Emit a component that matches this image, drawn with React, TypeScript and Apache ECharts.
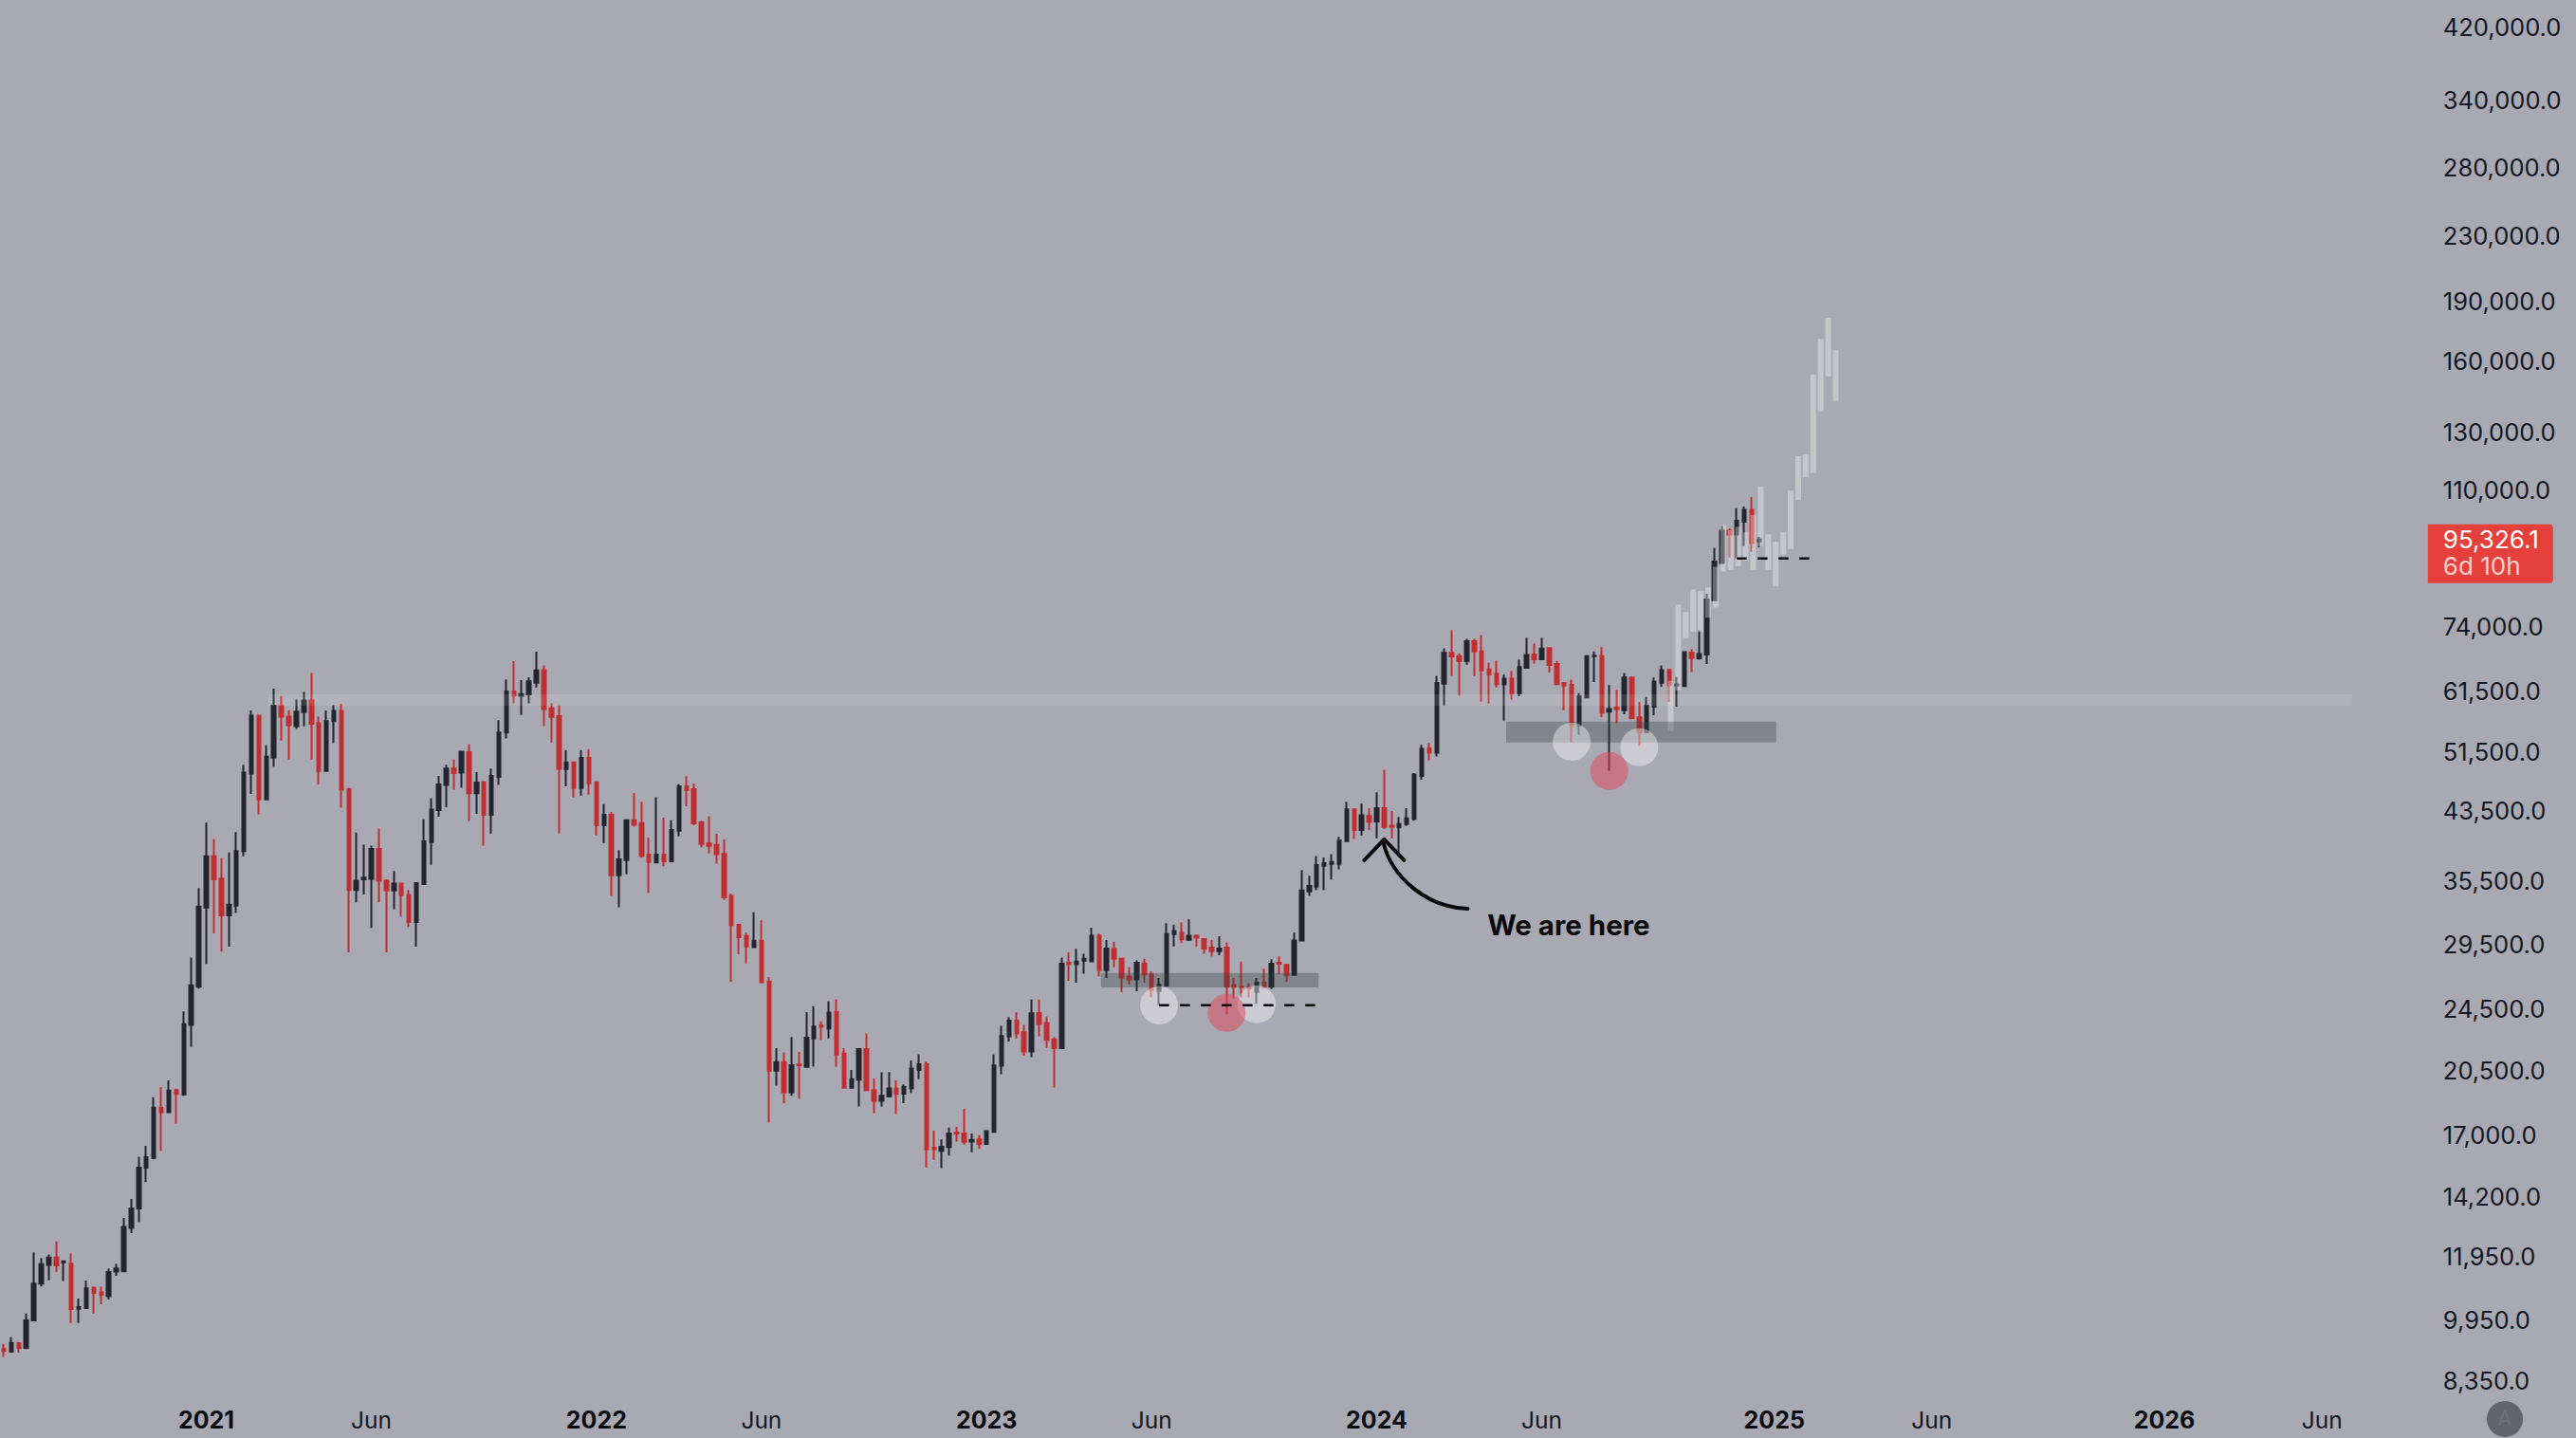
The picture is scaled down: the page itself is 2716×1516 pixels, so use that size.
import React, { useEffect, useRef } from "react";
import * as echarts from "echarts";

const FONT = "Inter";
const BG = "rgb(169,169,179)";
const DARK = "#23252f";
const RED = "#c12e30";

// weekly rows: [open, close, low, high]
const candles2020 = [
  [9135,9085,8930,9275],[9070,9300,9070,9455],[9290,9170,9045,9325],[9170,9930,9135,10130],[9930,11040,9930,12090],
  [11040,11680,10950,11890],[11660,11910,11150,12020],[11910,11640,11420,12480],[11750,11780,11130,11810],[11700,10260,9850,12050],
  [10270,10316,9850,10574],[10288,10896,10260,11145],[10910,10750,10130,10954],[10765,10690,10400,10954],[10650,11420,10545,11540],
  [11435,11540,11300,11700],[11448,13018,11416,13360],[12980,13730,12785,14110],[13730,15455,13200,15950],[15455,15930,14820,16460],
  [15890,18390,15840,18950],[18370,18140,16220,19500],[18140,19320,18090,19890],[19340,19130,17560,19425],[19100,23420,19030,24300],
  [23360,26200,21930,28400],[26100,32920,25950,34720],
];
const candles2021 = [
  [32820,38080,27880,41970],[38080,35610,30450,40010],[35700,32100,28900,37870],[32100,33090,29300,38500],[33000,38650,32300,40830],
  [38650,48530,38080,49650],[48380,57220,45600,58100],[57220,44900,43000,57220],[44900,50800,44900,52510],[50660,58900,49350,61870],
  [58800,57080,53220,60570],[57080,55670,50400,58100],[55530,57900,55100,59970],[57800,59800,55460,61270],[59800,55910,50400,64730],
  [55980,48750,46880,57080],[48750,56340,48750,58100],[56340,58030,52860,59000],[58030,46180,43840,59200],[46240,34530,28820,46430],
  [34530,35470,33320,40770],[35610,35800,34090,39370],[35660,38900,30940,39270],[38900,35470,33320,41220],[35470,34490,28820,35610],
  [34490,35180,32670,36500],[35180,34040,31960,35180],[34040,31480,31030,34530],[31480,35230,29300,35230],[35130,39750,35090,42400],
  [39690,43600,37150,45060],[43540,46880,42700,48060],[46820,49100,43900,49650],[49100,48450,46180,50400],[48530,51530,46430,51680],
  [51460,45700,42170,52650],[45700,47130,43050,48600],[47200,42950,39250,47200],[42950,48060,40660,49100],[47930,54480,46820,56470],
  [54480,61390,53560,63580],[61390,60670,59310,67030],[60600,60900,57320,63450],[60850,63200,59310,63960],[62960,65240,62080,68900],
  [65300,58340,55500,66200],[58460,57040,52950,59350],[57150,49070,40710,58930],[49030,49980,46640,51780],[49980,46410,45150,49980],
  [46410,50630,45400,51780],[50630,47040,45510,51950],
];
const candles2022 = [
  [47160,41660,40450,47350],[41660,42950,39560,44280],[42950,36040,33940,43280],[36040,37730,32850,38760],[37650,42260,36150,42350],
  [42260,41750,41500,45750],[41920,38140,37910,44600],[38260,37450,34250,40210],[37410,38260,37410,45190],[38260,37530,37000,42590],
  [37530,41090,37450,42260],[41020,46640,40340,46930],[46640,46130,44020,48040],[46260,41880,41670,47020],[42010,39450,39050,42220],
  [39530,39250,38380,42770],[39340,38300,37270,40630],[38340,33810,33570,39970],[33940,31190,26470,34180],[31220,30130,28670,31220],
  [30220,29320,27920,30520],[29260,29810,29260,32370],[29810,26440,26440,31640],[26470,20460,17610,26840],[20460,20970,19600,21840],
  [20970,19220,18620,21570],[19220,20790,19020,22560],[20830,20790,18870,21610],[20690,22510,20690,24240],[22460,23260,20710,24660],
  [23330,23260,22340,23600],[23120,24220,22460,25020],[24240,21440,20690,25160],[21500,19480,19480,21840],[19480,19970,19480,20500],
  [19930,21780,18450,21840],[21780,19340,19340,22790],[19340,18750,18100,20010],[18750,19030,18450,20360],[19000,19440,18940,20380],
  [19420,19140,18060,19890],[19140,19530,18620,19670],[19450,20590,19180,21080],[20500,20850,19970,21450],[20850,16300,15460,21010],
  [16370,16300,15810,17200],[16220,16420,15430,16770],[16400,17060,16000,17350],[17100,17060,16670,17390],[17060,16650,16520,18330],
  [16660,16740,16160,17060],[16770,16550,16320,16980],
];
const candles2023 = [
  [16550,17180,16520,17220],[17140,20780,17140,21440],[20760,22620,20260,23300],[22600,23650,22260,23900],[23650,22800,22450,24230],
  [22870,21640,21370,23360],[21640,24160,21280,25150],[24160,23430,22600,25150],[23500,22380,21840,23950],[22400,21840,19490,22540],
  [21840,27900,21800,28400],[27980,27850,26550,28830],[27850,28060,26400,29120],[28140,28290,27100,28720],[28090,30240,28040,30960],
  [30240,27380,26900,30440],[27380,29150,26760,29880],[29100,28300,27600,29710],[28300,26780,25680,28350],[26870,26650,26260,27600],
  [26650,27970,25760,28170],[27920,27040,26400,28300],[27040,25870,25300,27280],[25770,26250,24730,26770],[26190,30400,26150,31370],
  [30400,30660,29330,31240],[30520,29930,29620,31460],[29900,30240,29800,31720],[30240,30090,29330,30300],[29950,29150,28720,30000],
  [29230,28930,28490,29900],[28930,29150,28600,30210],[29230,26100,24100,29650],[26220,26100,25220,26780],[26100,26060,25300,28060],
  [26060,25980,25300,26370],[25700,26400,24830,26770],[26400,26060,26060,27500],[26100,27900,25940,28270],[27980,27900,27050,28500],
  [27800,27000,26470,27900],[27000,29840,27000,30520],[29830,34490,29830,36580],[34400,34950,33950,36000],[34880,37110,34510,38100],
  [37040,37320,34510,37950],[37250,37450,35600,38300],[37250,39850,36660,40270],[39800,43620,39800,44600],[43620,41100,40070,43620],
  [41100,42880,40450,44350],[42800,42080,41100,43770],
];
const candles2024 = [
  [42120,43770,40100,45820],[43770,41450,41200,48890],[41600,41500,40100,43420],[41400,41800,38340,42670],[41800,42500,41600,43770],
  [42430,48260,42200,48450],[48060,51990,47530,52580],[52030,51420,50260,52870],[51420,62900,50830,64200],[62800,68620,58930,69520],
  [68620,67930,64200,73320],[67990,67000,60600,68570],[67060,71000,66310,71500],[71000,68930,64190,71500],[68930,65250,59600,72250],
  [65400,64500,59260,66690],[64630,62700,62100,67100],[62650,63690,56400,64430],[63690,61080,59900,65130],[61080,65850,60540,67340],
  [65730,68200,65730,71700],[68300,67370,66500,70500],[67370,69500,67370,71700],[69570,66300,64830,69800],[66450,62700,62700,67050],
  [62900,62450,58130,63000],[62550,55600,52960,63500],[55600,60480,54120,61090],[60340,67990,60340,67990.5],[67990,68100,63100,68930],
  [67990,57740,56980,69800],[57900,58350,48800,62500],[58580,58350,55970,61640],[58130,63900,57470,64750],[63900,56780,56780,64000],
  [56930,54530,52430,59540],[54530,58890,54530,60400],[58720,63120,57290,63900],[62960,65300,62200,66190],[65310,62500,59540,65310],
  [62450,62660,58720,64000],[62330,68770,62330,68930],[68710,67630,64930,69370],[67570,68430,67280,73260],[68320,80110,66480,81450],
  [79950,89400,79950,93000],[89060,97770,89060,99210],[97770,96700,90460,98440],[96700,100650,90300,104400],[100360,103900,93500,104900],
  [103900,94350,91900,107800],[94800,95326.1,93210,96040],
];
const candles = [...candles2020, ...candles2021, ...candles2022, ...candles2023, ...candles2024];

// faded projection bars: [low, high], one per week from ghostStart
const ghostStart = 222;
const ghostBars = [
  [54720,63300],[61560,78920],[71690,77260],[72970,82480],[72900,82070],[76020,82950],[78300,88080],[86880,99390],
  [87310,97960],[88270,98890],[89670,97300],[87310,102350],[93500,111040],[87310,96700],[83220,94670],[91250,97300],
  [92750,109730],[106940,121300],[114250,121900],[115600,153700],[138100,170300],[152800,181200],[142500,164800],
];

const weekCount = 324;
const firstWeek = Date.UTC(2020, 5, 29);
const categories = Array.from({ length: weekCount }, (_, i) =>
  new Date(firstWeek + i * 7 * 86400000).toISOString().slice(0, 10)
);

const yearLabels: Record<number, string> = { 27: "2021", 79: "2022", 131: "2023", 183: "2024", 236: "2025", 288: "2026" };
const monthLabels: Record<number, string> = { 49: "Jun", 101: "Jun", 153: "Jun", 205: "Jun", 257: "Jun", 309: "Jun" };
const priceTicks = [420000,340000,280000,230000,190000,160000,130000,110000,74000,61500,51500,43500,35500,29500,24500,20500,17000,14200,11950,9950,8350];

const lastPrice = 95326.1;
const lastIndex = 234;
const countdown = "6d 10h";
const yMin = 8013;
const yMax = 454800;

// [fromWeek, toWeek, high, low]
const lightBand = [[35, 313, 60870, 58890]];
const darkZones = [[146, 175, 27150, 26050], [200, 236, 56230, 52930]];
// [week, price]
const whiteDots = [[154, 24730], [167, 24800], [209, 53080], [218, 52220]];
const redDots = [[163, 24190], [214, 48750]];
// [fromWeek, toWeek, price]
const dashes = [[154, 175, 24730], [231, 241, 90250]];
const arrowAnchor = [184, 39990];
const noteAnchor = [198, 31220];
const noteText = "We are here";

function overlay(name: string, rows: number[][], z: number, draw: (r: number[], api: any, params: any) => any, xy = (r: number[]) => [r[0], r[r.length - 1]]) {
  return {
    type: "custom",
    name,
    z,
    silent: true,
    clip: false,
    data: rows.map(xy),
    renderItem: (params: any, api: any) => draw(rows[params.dataIndex], api, params),
  };
}

export default function App() {
  const ref = useRef<HTMLDivElement>(null);
  useEffect(() => {
    document.body.style.margin = "0";
    document.body.style.background = BG;
    const chart = echarts.init(ref.current!, undefined, { renderer: "svg" });
    const ghostRows = ghostBars.map((b, i) => [ghostStart + i, b[0], b[1]]);
    chart.setOption({
      animation: false,
      backgroundColor: BG,
      textStyle: { fontFamily: FONT },
      grid: { left: 0, top: 0, width: weekCount * 7.91, height: 1470, containLabel: false },
      xAxis: {
        type: "category",
        data: categories,
        boundaryGap: true,
        axisLine: { show: false },
        axisTick: { show: false },
        splitLine: { show: false },
        axisLabel: {
          margin: 14,
          hideOverlap: false,
          interval: (i: number) => i in yearLabels || i in monthLabels,
          formatter: (_: string, i: number) => (yearLabels[i] ? `{y|${yearLabels[i]}}` : `{m|${monthLabels[i] ?? ""}}`),
          rich: {
            y: { fontFamily: FONT, fontSize: 25, fontWeight: 700, color: "#0b0c10" },
            m: { fontFamily: FONT, fontSize: 24.5, fontWeight: 400, color: "#131722" },
          },
        },
      },
      yAxis: {
        type: "log",
        logBase: 10,
        min: yMin,
        max: yMax,
        position: "right",
        axisLine: { show: false },
        axisTick: { show: false },
        splitLine: { show: false },
        minorSplitLine: { show: false },
        axisLabel: {
          margin: 13,
          color: "#131722",
          fontFamily: FONT,
          fontSize: 25.5,
          customValues: priceTicks,
          formatter: (v: number) => Math.round(v).toLocaleString("en-US") + ".0",
        },
      },
      series: [
        {
          type: "candlestick",
          name: "Price",
          z: 2,
          barWidth: 4,
          silent: true,
          data: candles,
          itemStyle: { color: DARK, color0: RED, borderColor: DARK, borderColor0: RED, borderWidth: 2 },
        },
        overlay("Projection", ghostRows, 3, (r, api) => {
          const a = api.coord([r[0], r[2]]);
          const b = api.coord([r[0], r[1]]);
          return { type: "rect", shape: { x: a[0] - 1.5, y: a[1], width: 6, height: b[1] - a[1] }, style: { fill: "rgba(255,255,255,0.33)" } };
        }),
        overlay("Band", lightBand, 4, (r, api) => {
          const a = api.coord([r[0], r[2]]);
          const b = api.coord([r[1], r[3]]);
          return { type: "rect", shape: { x: a[0] + 2, y: a[1], width: b[0] - a[0] - 2, height: b[1] - a[1] }, style: { fill: "rgba(255,255,255,0.11)" } };
        }),
        overlay("Zones", darkZones, 4, (r, api) => {
          const a = api.coord([r[0], r[2]]);
          const b = api.coord([r[1], r[3]]);
          return { type: "rect", shape: { x: a[0] + 2, y: a[1], width: b[0] - a[0], height: b[1] - a[1] }, style: { fill: "rgba(50,60,60,0.33)" } };
        }),
        overlay("White dots", whiteDots, 5, (r, api) => {
          const c = api.coord(r);
          return { type: "circle", shape: { cx: c[0], cy: c[1], r: 20 }, style: { fill: "rgba(255,255,255,0.4)" } };
        }),
        overlay("Red dots", redDots, 5, (r, api) => {
          const c = api.coord(r);
          return { type: "circle", shape: { cx: c[0], cy: c[1], r: 20 }, style: { fill: "rgba(225,70,90,0.5)" } };
        }),
        overlay("Dashes", dashes, 6, (r, api) => {
          const a = api.coord([r[0], r[2]]);
          const b = api.coord([r[1], r[2]]);
          return {
            type: "line",
            shape: { x1: a[0], y1: a[1], x2: b[0], y2: b[1] },
            style: { stroke: "#0b0c10", lineWidth: 2.5, lineDash: [10.5, 11.5] },
          };
        }),
        overlay("Arrow", [arrowAnchor], 7, (r, api) => {
          const [x, y] = api.coord(r);
          const ink = { stroke: "#0a0a0c", lineWidth: 4, lineCap: "round", fill: "none" };
          return {
            type: "group",
            children: [
              { type: "polyline", shape: { points: [[x - 21, y + 22], [x, y], [x + 21, y + 22]] }, style: { ...ink, lineJoin: "round" } },
              {
                type: "bezierCurve",
                shape: { x1: x - 1, y1: y + 3, cpx1: x + 8, cpy1: y + 40, cpx2: x + 45, cpy2: y + 72, x2: x + 88, y2: y + 73 },
                style: ink,
              },
            ],
          };
        }),
        overlay("Note", [noteAnchor], 7, (r, api) => {
          const [x, y] = api.coord(r);
          return { type: "text", style: { text: noteText, x: x - 2, y, fill: "#0a0a0c", font: `700 29.5px ${FONT}`, align: "left", verticalAlign: "middle" } };
        }),
        overlay("Price tag", [[lastIndex, lastPrice]], 8, (r, api, params) => {
          const [, y] = api.coord(r);
          const left = params.coordSys.x + params.coordSys.width - 3;
          return {
            type: "group",
            children: [
              { type: "rect", shape: { x: left, y: y - 16, width: 132, height: 62, r: [0, 4, 4, 0] }, style: { fill: "#e5403c" } },
              { type: "text", style: { text: lastPrice.toLocaleString("en-US", { minimumFractionDigits: 1 }), x: left + 16, y: y, fill: "#ffffff", font: `400 26px ${FONT}`, align: "left", verticalAlign: "middle" } },
              { type: "text", style: { text: countdown, x: left + 16, y: y + 28, fill: "#fbd0cd", font: `400 26px ${FONT}`, align: "left", verticalAlign: "middle" } },
            ],
          };
        }),
      ],
      graphic: [
        { type: "circle", left: 2622, top: 1477, shape: { r: 19 }, style: { fill: "#63646e" } },
        { type: "text", left: 2633, top: 1484, style: { text: "A", fill: "#6e6f79", font: `500 22px ${FONT}` } },
      ],
    });
    return () => chart.dispose();
  }, []);
  return <div ref={ref} style={{ width: 2716, height: 1516 }} />;
}
